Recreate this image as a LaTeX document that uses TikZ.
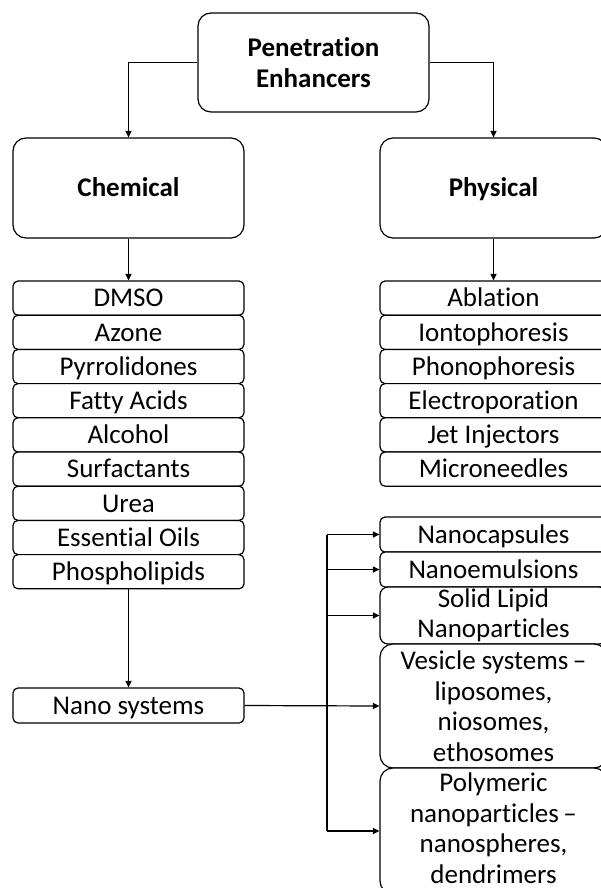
\documentclass[tikz,border=0pt]{standalone}
\usepackage{fontspec}
\setmainfont{Carlito}[Ligatures=NoCommon]
\usetikzlibrary{arrows.meta}
\begin{document}
\begin{tikzpicture}[x=1pt,y=-1pt,
  box/.style={draw=black, line width=1.2pt, fill=white, inner sep=0pt, align=flush center,
              font=\fontsize{27}{30.5}\selectfont},
  one/.style={text height=17.4pt, text depth=0pt},
  lbox/.style={box, minimum width=231pt},
  rbox/.style={box, minimum width=227pt, text width=225pt},
  bigbox/.style={rounded corners=13pt, minimum height=100pt, font=\bfseries\fontsize{27}{31}\selectfont},
  item/.style={rounded corners=5pt, minimum height=34.2pt},
  textonly/.style={inner sep=0pt, align=flush center, text width=225pt, font=\fontsize{27}{30.5}\selectfont},
  link/.style={line width=1.2pt, -{Triangle[length=6.5pt,width=6pt]}},
  wire/.style={line width=1.2pt}]
\useasboundingbox (0,0) rectangle (601,888);
\clip (0,0) rectangle (601,888);

% top level
\node[lbox, bigbox, minimum height=99pt] (top) at (313.5,62.5) {Penetration\\Enhancers};
\node[lbox, bigbox, one] (chem) at (128.5,188) {Chemical};
\node[rbox, bigbox, one] (phys) at (493.5,188) {Physical};

% chemical list
\foreach \t [count=\i] in {DMSO, Azone, Pyrrolidones, Fatty Acids, Alcohol, Surfactants, Urea, Essential Oils, Phospholipids}
  \node[lbox, item, one] (c\i) at (128.5,{298.1+34.2*(\i-1)}) {\t};

% physical list
\foreach \t [count=\i] in {Ablation, Iontophoresis, Phonophoresis, Electroporation, Jet Injectors, Microneedles}
  \node[rbox, item, one] (p\i) at (493.5,{298.1+34.2*(\i-1)}) {\t};

% nano systems
\node[lbox, item, one, minimum height=35pt] (nano) at (128.5,705.5) {Nano systems};

\node[rbox, item, one, minimum height=35pt] (n1) at (493.5,534.5) {Nanocapsules};
\node[rbox, item, one, minimum height=35pt] (n2) at (493.5,569.5) {Nanoemulsions};
\node[rbox, rounded corners=8pt, minimum height=57pt] (n3) at (493.5,615.5) {Solid Lipid\\Nanoparticles};
\node[rbox, rounded corners=13pt, minimum height=124pt] (n4) at (493.5,706) {Vesicle systems\,--\\liposomes,\\niosomes,\\ethosomes};
\node[rbox, rounded corners=13pt, minimum height=126pt] (n5) at (493.5,831) {};
\node[textonly] (n5t) at ([yshift=3pt]n5.center) {Polymeric\\nanoparticles\,--\\nanospheres,\\dendrimers};

% connectors
\draw[link] (top.west) -| (chem.north);
\draw[link] (top.east) -| (phys.north);
\draw[link] (chem.south) -- (c1.north);
\draw[link] (phys.south) -- (p1.north);
\draw[link] (c9.south) -- (nano.north);

\coordinate (bt) at (327,534.5);
\coordinate (bb) at (327,831);
\draw[wire] (bt) -- (bb);
\draw[link] (bt) -- (n1.west);
\draw[link] (bt |- n2.west) -- (n2.west);
\draw[link] (bt |- n3.west) -- (n3.west);
\draw[link] (nano.east) -- (n4.west);
\draw[link] (bb) -- (n5.west);
\end{tikzpicture}
\end{document}
